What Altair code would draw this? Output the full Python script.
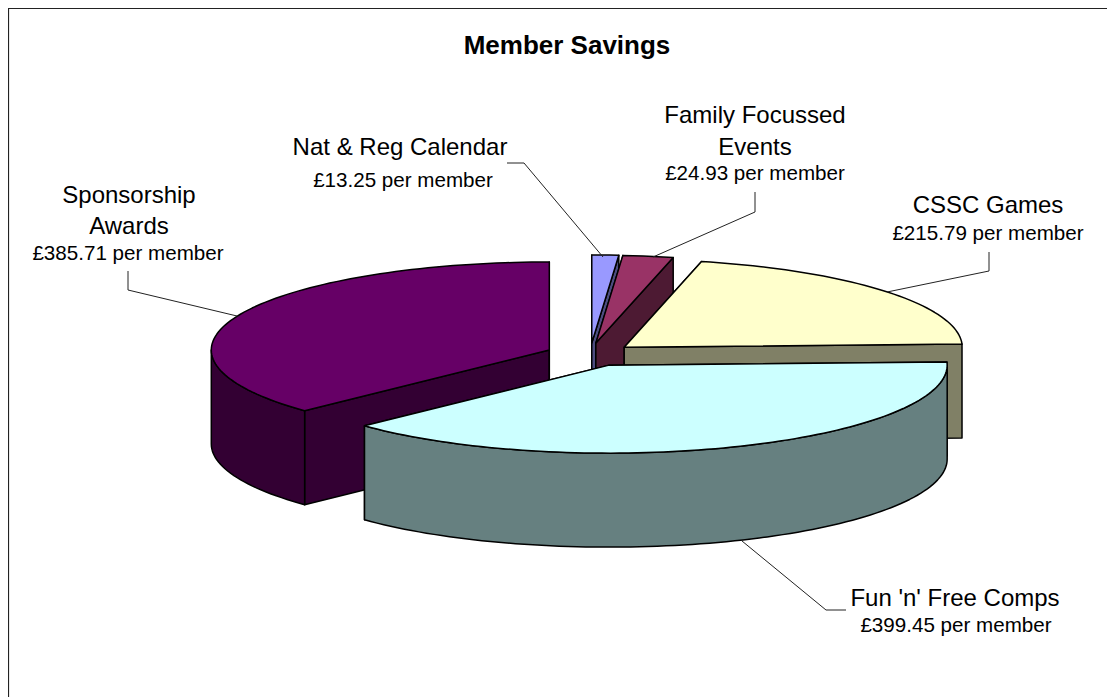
import math
import altair as alt
import pandas as pd

# ---- data ---------------------------------------------------------------
categories = ["Nat & Reg Calendar", "Family Focussed Events", "CSSC Games",
              "Fun 'n' Free Comps", "Sponsorship Awards"]
savings = [13.25, 24.93, 215.79, 399.45, 385.71]
top_colours = ["#9999FF", "#993366", "#FFFFCC", "#CCFFFF", "#660066"]
wall_colours = ["#4D4D80", "#4D1A33", "#808066", "#668080", "#330033"]
title_text = "Member Savings"

# ---- 3-D pie layout (plot pixels) ----------------------------------------
W, H = 1099, 689
OFF = 8
CX, CY = 590 - OFF, 354.5 - OFF
RX, RY, DEPTH = 338, 88, 94
EXPLODE = 0.131
NUDGE_X = [0, -1, 0, 2, 0]
DRAW_ORDER = [0, 1, 2, 4, 3]


def rim(cx, cy, deg):
    t = math.radians(deg)
    return [cx + RX * math.sin(t), cy - RY * math.cos(t)]


def feature(coords, fill, closed=True):
    if closed:
        geom = {"type": "Polygon", "coordinates": [coords + [coords[0]]]}
    else:
        geom = {"type": "LineString", "coordinates": coords}
    return {"type": "Feature", "geometry": geom, "properties": {"color": fill}}


def arc(cx, cy, a0, a1):
    n = max(2, int(abs(a1 - a0) / 1.5))
    return [rim(cx, cy, a0 + (a1 - a0) * i / n) for i in range(n + 1)]


total = sum(savings)
bounds = [0.0]
for v in savings:
    bounds.append(bounds[-1] + v / total * 360)

shapes = []
for i in DRAW_ORDER:
    a0, a1 = bounds[i], bounds[i + 1]
    mid = math.radians((a0 + a1) / 2)
    cx = CX + EXPLODE * RX * math.sin(mid) + NUDGE_X[i]
    cy = CY - EXPLODE * RY * math.cos(mid)
    down = lambda p: [p[0], p[1] + DEPTH]
    apex = [cx, cy]
    # cut walls
    for a in (a0, a1):
        p = rim(cx, cy, a)
        shapes.append(feature([apex, p, down(p), down(apex)], wall_colours[i]))
    # outer rim wall: only the front half of the ellipse shows
    lo, hi = max(a0, 90), min(a1, 270)
    if hi > lo:
        pts = arc(cx, cy, lo, hi)
        shapes.append(feature(pts + [down(p) for p in reversed(pts)], wall_colours[i]))
    # top face
    shapes.append(feature([apex] + arc(cx, cy, a0, a1), top_colours[i]))

leader_paths = [
    [[507, 163], [524, 163], [603, 257]],
    [[755, 192], [755, 212], [653, 257]],
    [[989, 252], [989, 271], [887, 292]],
    [[128, 271], [128, 290], [237, 316]],
    [[742, 541], [826, 610], [846, 610]],
]
leaders = [feature([[x - OFF, y - OFF] for x, y in p], "none", closed=False)
           for p in leader_paths]
frame = [feature([[0.5, H + 5], [0.5, 0.5], [W + 5, 0.5]], "none", closed=False)]

name_rows = [
    ("Nat & Reg Calendar", 400, 155),
    ("Family Focussed", 755, 123),
    ("Events", 755, 155),
    ("CSSC Games", 988, 213),
    ("Sponsorship", 129, 203),
    ("Awards", 129, 234),
    ("Fun 'n' Free Comps", 955, 606),
]
value_rows = [
    ("£13.25 per member", 403, 187),
    ("£24.93 per member", 755, 180),
    ("£215.79 per member", 988, 240),
    ("£385.71 per member", 128, 260),
    ("£399.45 per member", 956, 632),
]

PROJ = dict(type="identity", scale=1, translate=[0, 0])

pie = alt.Chart(alt.Data(values=shapes)).mark_geoshape(
    stroke="black", strokeWidth=1.5, strokeJoin="round"
).encode(fill=alt.Fill("properties.color:N", scale=None)).project(**PROJ)

lines = alt.Chart(alt.Data(values=leaders)).mark_geoshape(
    filled=False, stroke="#222222", strokeWidth=1
).project(**PROJ)

border = alt.Chart(alt.Data(values=frame)).mark_geoshape(
    filled=False, stroke="#222222", strokeWidth=1.2
).project(**PROJ)


def text_layer(rows, size, weight="normal"):
    df = pd.DataFrame(rows, columns=["label", "x", "y"])
    df["x"] -= OFF
    df["y"] -= OFF
    return alt.Chart(df).mark_text(
        font="Liberation Sans", fontSize=size, fontWeight=weight,
        color="black", align="center", baseline="alphabetic"
    ).encode(
        x=alt.X("x:Q", scale=None, axis=None),
        y=alt.Y("y:Q", scale=None, axis=None),
        text="label:N",
    )


chart = alt.layer(
    border, pie, lines,
    text_layer([(title_text, 567, 54)], 26, "bold"),
    text_layer(name_rows, 24),
    text_layer(value_rows, 20.6),
).properties(
    width=W, height=H, padding=0,
    autosize=alt.AutoSizeParams(type="none"),
    background="white",
).configure_view(stroke=None)

chart.save("out.html", embed_options={"renderer": "svg", "actions": False})
